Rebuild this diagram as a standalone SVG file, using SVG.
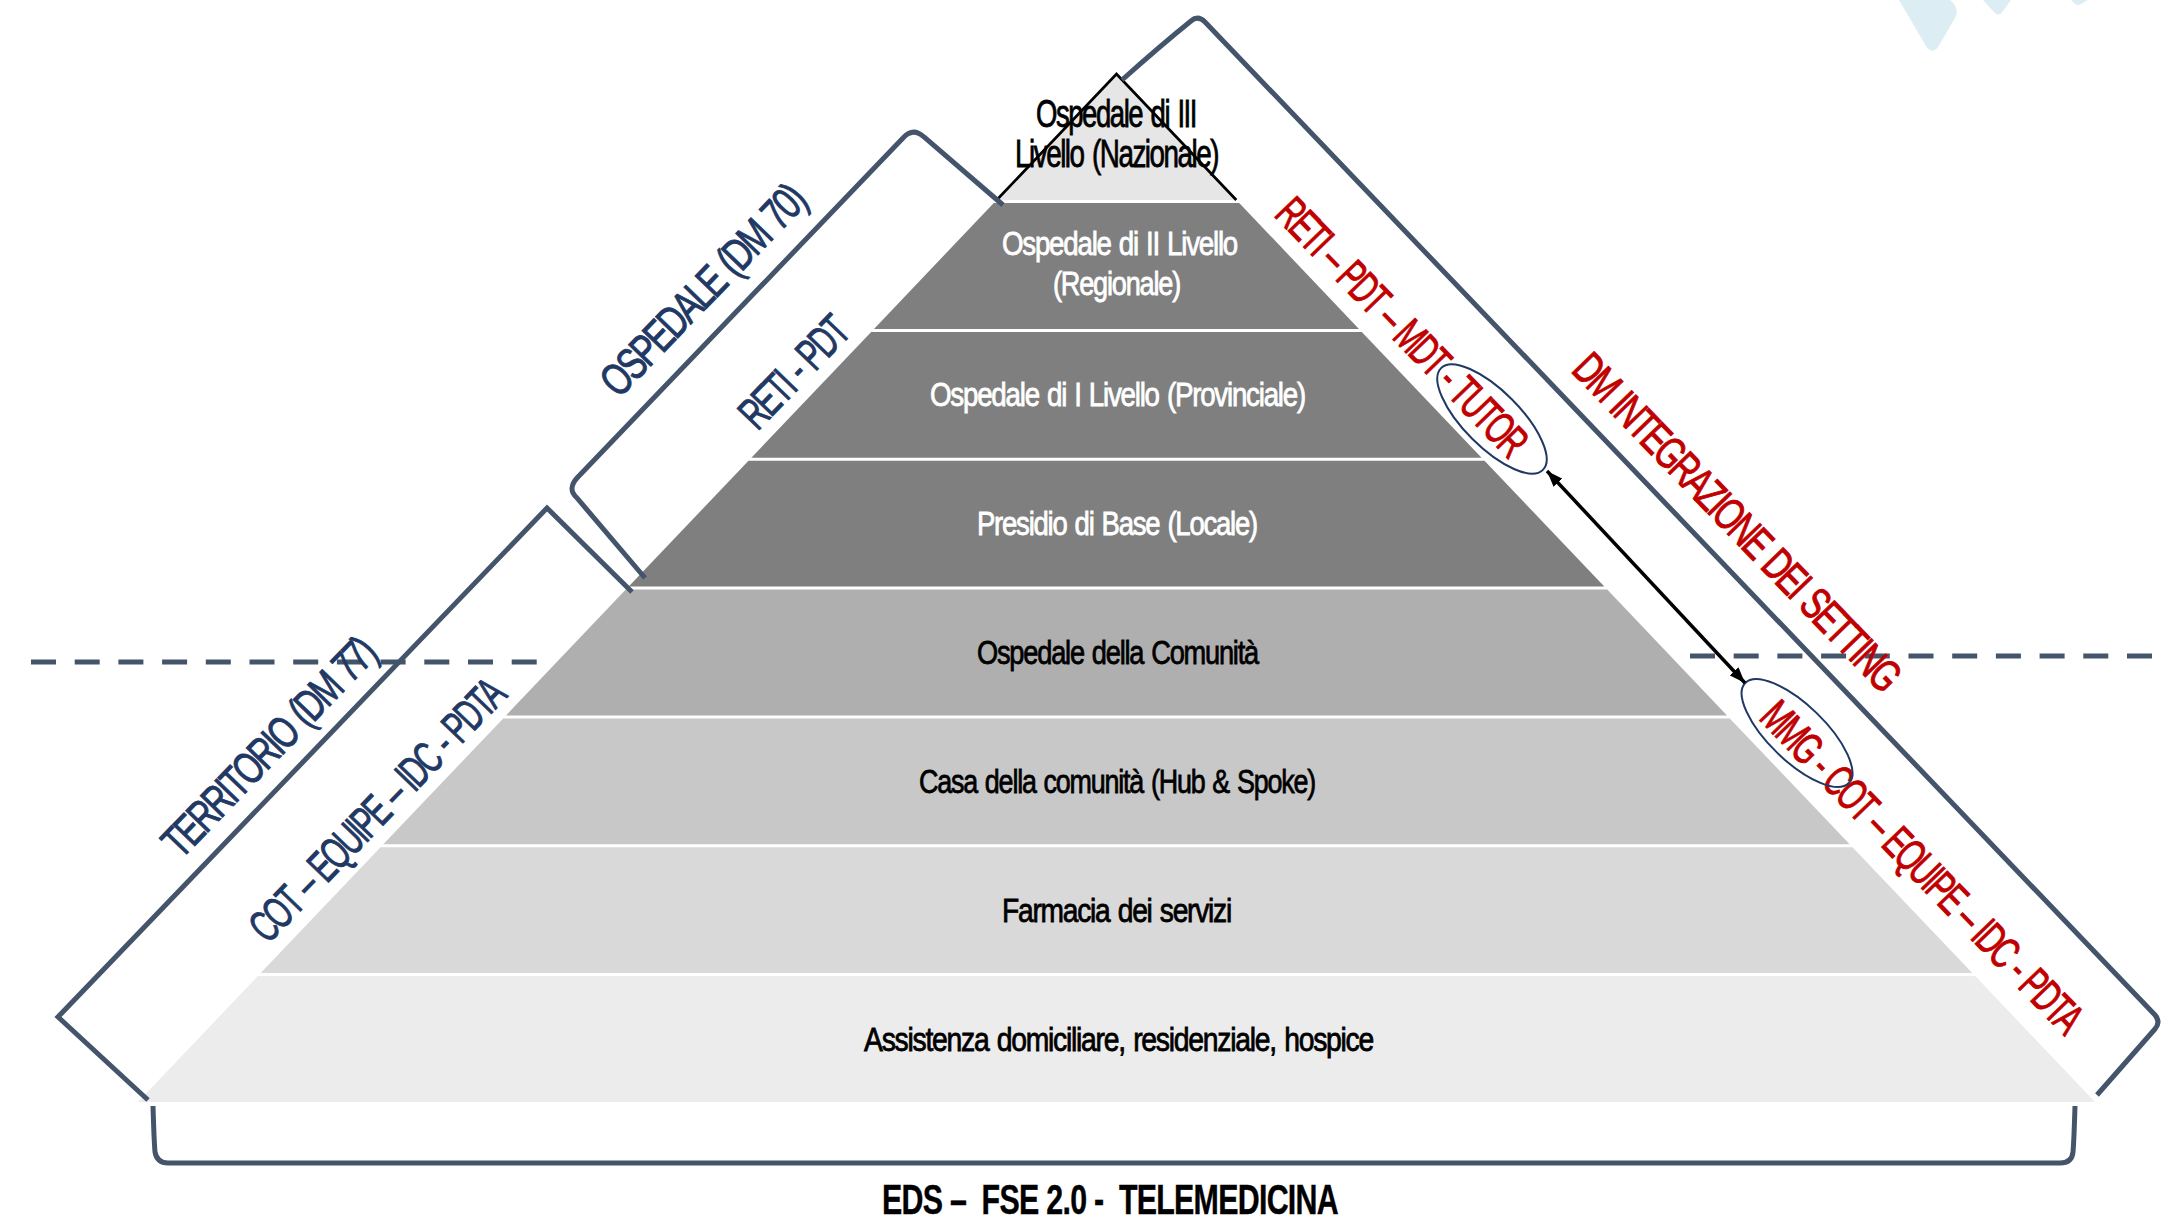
<svg xmlns="http://www.w3.org/2000/svg" width="2161" height="1219" viewBox="0 0 2161 1219">
<style>
.lvl{font-family:"Liberation Sans",Arial,sans-serif;font-size:34px;text-anchor:middle;stroke-width:0.8;letter-spacing:-1.5px;word-spacing:2px}
.top{font-family:"Liberation Sans",Arial,sans-serif;font-size:38px;text-anchor:middle;fill:#000;stroke:#000;stroke-width:0.8;letter-spacing:-2px;word-spacing:3px}
.w{fill:#fff;stroke:#fff}
.k{fill:#000;stroke:#000}
.rot{font-family:"Liberation Sans",Arial,sans-serif;font-size:45px;text-anchor:middle;stroke-width:1;letter-spacing:-3.5px;word-spacing:4px}
.navy{fill:#1F3864;stroke:#1F3864}
.red{fill:#C00000;stroke:#C00000}
.br{fill:none;stroke:#44546A;stroke-width:5}
.dash{fill:none;stroke:#44546A;stroke-width:5;stroke-dasharray:25 18.7}
.ell{fill:none;stroke:#1F3864;stroke-width:2}
.deco{fill:#DCEDF3}
.bot{font-family:"Liberation Sans",Arial,sans-serif;font-size:43px;font-weight:bold;fill:#000;stroke:#000;stroke-width:0.4;text-anchor:middle;white-space:pre;letter-spacing:-1px}
</style>
<defs>
<marker id="ah" viewBox="0 0 16 12" refX="16" refY="6" markerWidth="16" markerHeight="12" markerUnits="userSpaceOnUse" orient="auto-start-reverse">
<path d="M0,0 L16,6 L0,12 Z" fill="#000"/>
</marker>
</defs>
<rect width="2161" height="1219" fill="#fff"/>

<g id="decoration">
<path class="deco" d="M1899,0 L1950,0 Q1960,8 1955,18 L1938,47 Q1932,55 1926,46 Z"/>
<path class="deco" d="M1983,0 L2011,0 L2003,11 Q1998,18 1993,11 Z"/>
<path class="deco" d="M2071,0 L2088,0 L2081,4 Q2078,6 2075,4 Z"/>
</g>

<g id="dashed-lines">
<line class="dash" x1="31" y1="662" x2="540" y2="662"/>
<line class="dash" x1="1690" y1="656" x2="2161" y2="656"/>
</g>

<g id="level-1">
<polygon points="1116.5,74 1236.3,200 996.7,200" fill="#E7E6E6"/>
<polyline points="996.7,200 1116.5,74 1236.3,200" fill="none" stroke="#000" stroke-width="2.7"/>
<text class="top" x="1116" y="127" textLength="160" lengthAdjust="spacingAndGlyphs">Ospedale di III</text>
<text class="top" x="1116.5" y="167" textLength="203" lengthAdjust="spacingAndGlyphs">Livello (Nazionale)</text>
</g>
<g id="level-2">
<polygon points="993.8,203 1239.2,203 1359,328.9 874,328.9" fill="#7F7F7F"/>
<text class="lvl w" x="1119.5" y="255" textLength="235" lengthAdjust="spacingAndGlyphs">Ospedale di II Livello</text>
<text class="lvl w" x="1116.5" y="295" textLength="127" lengthAdjust="spacingAndGlyphs">(Regionale)</text>
</g>
<g id="level-3">
<polygon points="871.2,331.9 1361.8,331.9 1481.6,457.7 751.4,457.7" fill="#7F7F7F"/>
<text class="lvl w" x="1117.5" y="406" textLength="375" lengthAdjust="spacingAndGlyphs">Ospedale di I Livello (Provinciale)</text>
</g>
<g id="level-4">
<polygon points="748.5,460.7 1484.5,460.7 1604.3,586.6 628.7,586.6" fill="#7F7F7F"/>
<text class="lvl w" x="1117" y="535" textLength="280" lengthAdjust="spacingAndGlyphs">Presidio di Base (Locale)</text>
</g>
<g id="level-5">
<polygon points="625.8,589.6 1607.2,589.6 1727,715.4 506,715.4" fill="#AFAFAF"/>
<text class="lvl k" x="1117.5" y="664" textLength="281" lengthAdjust="spacingAndGlyphs">Ospedale della Comunità</text>
</g>
<g id="level-6">
<polygon points="503.2,718.4 1729.8,718.4 1849.7,844.3 383.3,844.3" fill="#C8C8C8"/>
<text class="lvl k" x="1117" y="793" textLength="396" lengthAdjust="spacingAndGlyphs">Casa della comunità (Hub &amp; Spoke)</text>
</g>
<g id="level-7">
<polygon points="380.5,847.3 1852.5,847.3 1972.3,973.1 260.7,973.1" fill="#D9D9D9"/>
<text class="lvl k" x="1116.5" y="922" textLength="229" lengthAdjust="spacingAndGlyphs">Farmacia dei servizi</text>
</g>
<g id="level-8">
<polygon points="257.8,976.1 1975.2,976.1 2095,1102 138,1102" fill="#ECECEC"/>
<text class="lvl k" x="1118.5" y="1051" textLength="509" lengthAdjust="spacingAndGlyphs">Assistenza domiciliare, residenziale, hospice</text>
</g>

<g id="bracket-ospedale">
<path class="br" d="M1003,205 L924,137 Q913,127 903,138 L577,478 Q567,489 577,498 L645,578"/>
<text class="rot navy" transform="translate(702,290) rotate(-46)" x="0" y="16" textLength="272" lengthAdjust="spacingAndGlyphs">OSPEDALE (DM 70)</text>
<text class="rot navy" transform="translate(793,372) rotate(-46)" x="0" y="16" textLength="135" lengthAdjust="spacingAndGlyphs">RETI - PDT</text>
</g>

<g id="bracket-territorio">
<path class="br" d="M632,592 L547,508 L58,1017 L148,1100"/>
<text class="rot navy" transform="translate(268,747) rotate(-46)" x="0" y="16" textLength="284" lengthAdjust="spacingAndGlyphs">TERRITORIO (DM 77)</text>
<text class="rot navy" transform="translate(376,810) rotate(-46)" x="0" y="16" textLength="344" lengthAdjust="spacingAndGlyphs">COT – EQUIPE – IDC - PDTA</text>
</g>

<g id="bracket-integrazione">
<path class="br" d="M1122,80 Q1160,46 1191,21 Q1198,15 1205,22 L2155,1015 Q2161,1022 2155,1029 L2097,1095"/>
<text class="rot red" transform="translate(1402,326) rotate(46)" x="0" y="16" textLength="338" lengthAdjust="spacingAndGlyphs">RETI – PDT – MDT - TUTOR</text>
<text class="rot red" transform="translate(1737,521) rotate(46)" x="0" y="16" textLength="448" lengthAdjust="spacingAndGlyphs">DM INTEGRAZIONE DEI SETTING</text>
<text class="rot red" transform="translate(1922,866) rotate(46)" x="0" y="16" textLength="440" lengthAdjust="spacingAndGlyphs">MMG - COT – EQUIPE – IDC - PDTA</text>
<ellipse class="ell" cx="1492" cy="419" rx="72" ry="28" transform="rotate(45 1492 419)"/>
<ellipse class="ell" cx="1797" cy="733" rx="72" ry="28" transform="rotate(44 1797 733)"/>
</g>

<g id="bracket-digitale">
<path class="br" d="M153,1106 Q154,1140 155,1152 Q157,1163 168,1163 L2060,1163 Q2072,1163 2073,1152 Q2074,1140 2075,1106"/>
<text class="bot" x="1110" y="1214" textLength="456" lengthAdjust="spacingAndGlyphs">EDS –  FSE 2.0 -  TELEMEDICINA</text>
</g>

<g id="connectors">
<line x1="1547" y1="471" x2="1745" y2="683" stroke="#000" stroke-width="3.5" marker-start="url(#ah)" marker-end="url(#ah)"/>
</g>
</svg>
